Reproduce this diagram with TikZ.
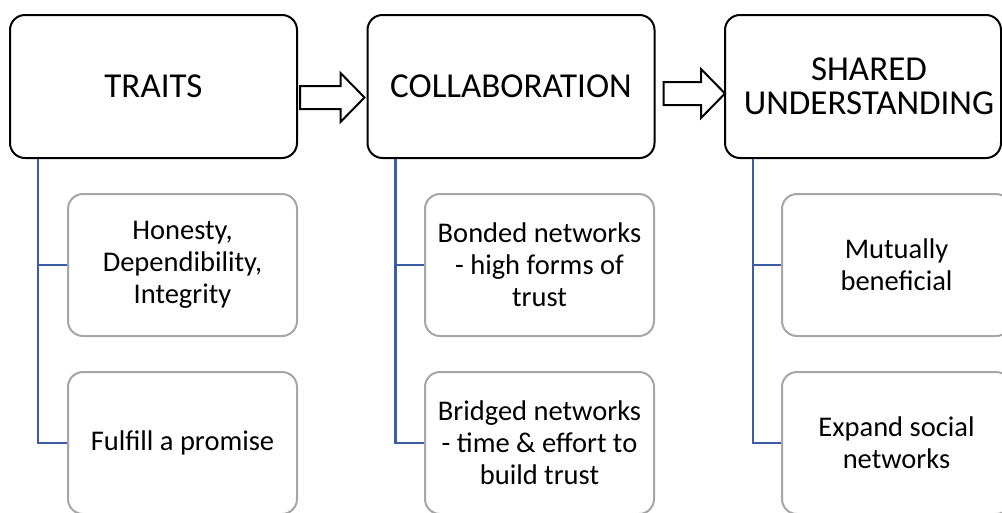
\documentclass[tikz,border=0pt]{standalone}
\usepackage{fontspec}
\setmainfont{Carlito}
\usetikzlibrary{calc}
\definecolor{treeblue}{HTML}{3A5DA6}
\definecolor{leafgray}{HTML}{A6A6A6}
\tikzset{
  x=1pt, y=1pt,
  headbox/.style={draw=black, line width=2pt, rounded corners=15pt, fill=white,
    minimum width=287pt, minimum height=143pt, inner sep=0pt},
  leafbox/.style={draw=leafgray, line width=2pt, rounded corners=15pt, fill=white,
    minimum width=229pt, minimum height=142pt, inner sep=0pt},
  headtext/.style={font=\fontsize{35}{34}\selectfont, align=center, inner sep=0pt},
  leaftext/.style={font=\fontsize{28.5}{32}\selectfont, align=center, inner sep=0pt},
  branch/.style={draw=treeblue, line width=2.2pt},
  blockarrow/.style={draw=black, line width=2pt, fill=white, line join=miter},
}
% hollow block arrow from #1 to #2 (both on the same horizontal line)
\newcommand\blockarrowpath[2]{%
  \draw[blockarrow] ($(#1)+(0,11.5)$) -- ($(#2)+(-24,11.5)$) -- ($(#2)+(-24,24.5)$)
    -- (#2) -- ($(#2)+(-24,-24.5)$) -- ($(#2)+(-24,-11.5)$) -- ($(#1)+(0,-11.5)$) -- cycle;}
\begin{document}
\begin{tikzpicture}
\useasboundingbox (0,0) rectangle (1002,-512);
\clip (0,0) rectangle (1002,-512);

% column heads
\node[headbox] (t1) at (153.5,-86.5) {};
\node[headbox] (t2) at (511,-86.5) {};
\node[headbox, minimum width=276pt] (t3) at (863,-86.5) {};
\node[headtext] (t1txt) at (t1.center) {TRAITS};
\node[headtext] (t2txt) at (t2.center) {COLLABORATION};
\node[headtext] (t3txt) at ($(t3.center)+(6,0)$) {SHARED\\UNDERSTANDING};

% leaves
\node[leafbox] (l11) at (182.5,-265) {};
\node[leafbox] (l12) at (182.5,-443) {};
\node[leafbox] (l21) at (539.5,-265) {};
\node[leafbox] (l22) at (539.5,-443) {};
\node[leafbox] (l31) at (896.5,-265) {};
\node[leafbox] (l32) at (896.5,-443) {};
\node[leaftext] at (l11.center) {Honesty,\\Dependibility,\\Integrity};
\node[leaftext] at (l12.center) {Fulfill a promise};
\node[leaftext] at (l21.center) {Bonded networks\\- high forms of\\trust};
\node[leaftext] at (l22.center) {Bridged networks\\- time \& effort to\\build trust};
\node[leaftext] at (l31.center) {Mutually\\beneficial};
\node[leaftext] at (l32.center) {Expand social\\networks};

% tree branches
\foreach \h/\a/\b in {t1/l11/l12, t2/l21/l22, t3/l31/l32}{
  \coordinate (\h-root) at ($(\h.south west)+(29,0)$);
  \draw[branch] (\h-root) |- (\b.west);
  \draw[branch] (\h-root |- \a.west) -- (\a.west);
}

% arrows between heads
\coordinate (a1s) at ($(t1.east)+(2,-11)$);
\coordinate (a1e) at ($(t2.west)+(-2,-11)$);
\coordinate (a2s) at ($(t2.east)+(8,-7)$);
\coordinate (a2e) at ($(t3.west)+(1,-7)$);
\blockarrowpath{a1s}{a1e}
\blockarrowpath{a2s}{a2e}
\end{tikzpicture}
\end{document}
